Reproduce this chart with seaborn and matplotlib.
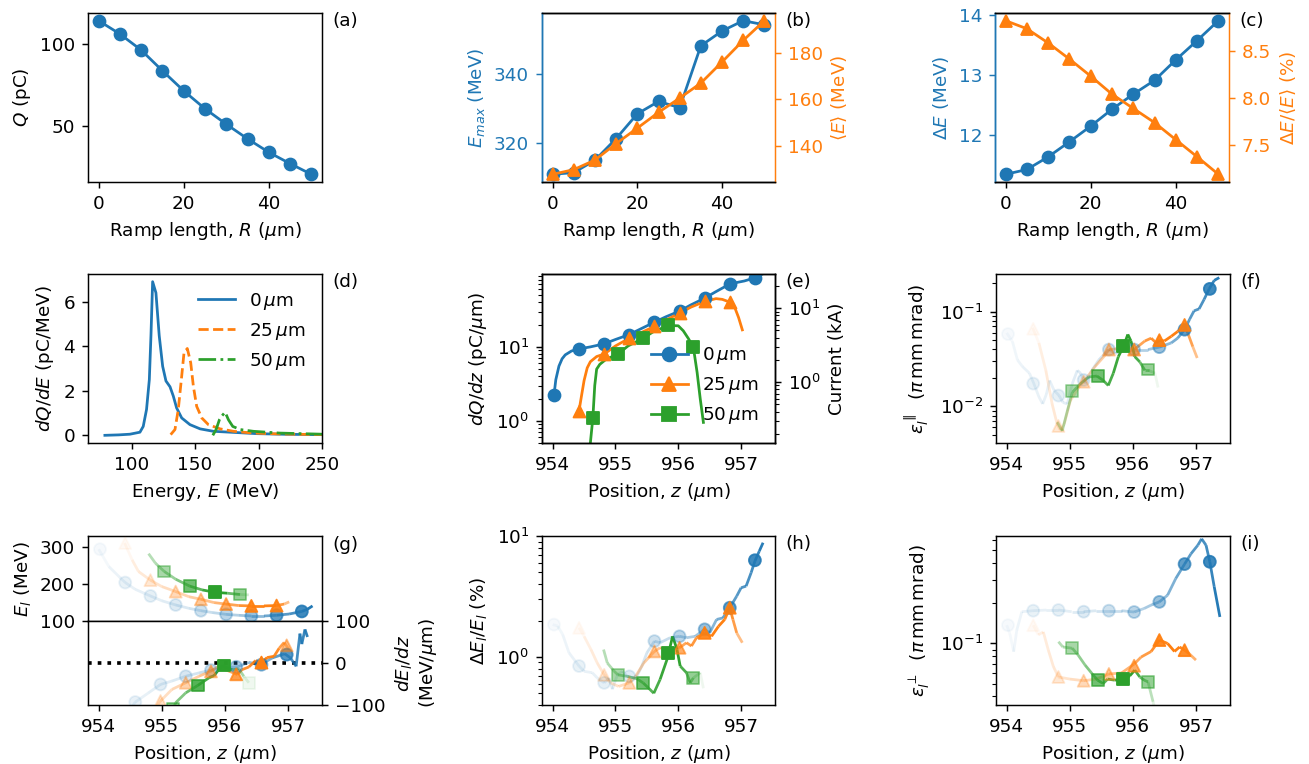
import numpy as np
import matplotlib
matplotlib.use("Agg")
import matplotlib.pyplot as plt
import seaborn as sns
from matplotlib.collections import LineCollection
from matplotlib.lines import Line2D
from matplotlib.colors import to_rgba

# ------------------------------------------------------------------ data
ramp = [0, 5, 10, 15, 20, 25, 30, 35, 40, 45, 50]
charge_pc = [114.2, 106.1, 96.3, 83.7, 71.5, 60.6, 51.2, 42.3, 34.1, 27.2, 20.7]
e_max = [310.8, 311.3, 314.9, 321.2, 328.4, 332.0, 330.2, 348.2, 352.5, 355.5, 354.3]
e_mean = [128.1, 130.1, 134.2, 141.2, 147.8, 154.5, 160.6, 167.0, 176.0, 185.2, 193.6]
e_spread = [11.35, 11.43, 11.64, 11.89, 12.15, 12.43, 12.68, 12.91, 13.25, 13.57, 13.90]
e_spread_rel = [8.815, 8.73, 8.58, 8.41, 8.23, 8.04, 7.89, 7.74, 7.56, 7.38, 7.195]

labels_r = ["0$\\,\\mu$m", "25$\\,\\mu$m", "50$\\,\\mu$m"]

# (d) spectra
spec_E_0 = [79, 90, 98.7, 106.6, 109.2, 111.8, 114, 115.3, 116.6, 119.2, 121.8, 124.5, 127.1,
            130.3, 132.9, 135.5, 139.5, 146, 154, 164.5, 177.6, 198.7, 222, 250, 300, 345]
spec_Q_0 = [0, 0.02, 0.05, 0.14, 0.4, 1.16, 2.5, 4.5, 6.9, 6.4, 4.47, 3.1, 2.44,
            2.18, 1.76, 1.23, 0.78, 0.48, 0.29, 0.18, 0.14, 0.075, 0.045, 0.03, 0.01, 0.0]
spec_E_25 = [130.8, 134.2, 136.8, 139.5, 141.3, 143.9, 146.6, 148.7, 151.3, 155.3, 160.5,
             169.7, 180.3, 196, 217, 250, 300, 345]
spec_Q_25 = [0.03, 0.26, 1.16, 2.66, 3.7, 3.9, 3.26, 2.2, 1.3, 0.78, 0.48,
             0.29, 0.18, 0.1, 0.06, 0.03, 0.01, 0.0]
spec_E_50 = [164, 166.6, 169.2, 171, 173.7, 176.3, 179.7, 185.5, 196, 217, 250, 300, 345]
spec_Q_50 = [0, 0.26, 0.7, 0.86, 1.04, 0.7, 0.4, 0.26, 0.18, 0.1, 0.05, 0.02, 0.0]

# marker positions (um)
zm_0 = [954.02, 954.42, 954.82, 955.22, 955.62, 956.02, 956.42, 956.82, 957.22]
zm_25 = [954.42, 954.82, 955.22, 955.62, 956.02, 956.42, 956.82]
zm_50 = [954.64, 955.04, 955.44, 955.84, 956.24]
zm_50s = [955.04, 955.44, 955.84, 956.24]

# (e) current profile dQ/dz (pC/um)
ze_0 = [954.02, 954.05, 954.1, 954.15, 954.2, 954.3, 954.42, 954.6, 954.82, 955.0, 955.22,
        955.4, 955.62, 955.8, 956.02, 956.2, 956.42, 956.6, 956.82, 956.95, 957.05, 957.22, 957.37]
qe_0 = [2.2, 3.6, 5.5, 6.9, 7.8, 8.8, 9.4, 10.0, 11.0, 12.6, 14.7,
        17.5, 21.6, 25.5, 30.5, 37, 45.7, 56, 71, 75, 78, 86, 100]
qm_0 = [2.2, 9.4, 11.0, 14.7, 21.6, 30.5, 45.7, 71, 86]
ze_25 = [954.42, 954.46, 954.5, 954.55, 954.6, 954.7, 954.82, 955.0, 955.22, 955.4, 955.62,
         955.8, 956.02, 956.2, 956.42, 956.6, 956.7, 956.82, 956.9, 956.96, 957.02]
qe_25 = [1.37, 2.2, 3.5, 5.2, 6.3, 7.4, 8.0, 10.3, 13.1, 15.5, 18.9,
         23, 28.6, 34.5, 41.2, 45, 44, 40.4, 34, 25, 17]
qm_25 = [1.37, 8.0, 13.1, 18.9, 28.6, 41.2, 40.4]
ze_50 = [954.6, 954.64, 954.67, 954.7, 954.75, 954.85, 955.04, 955.2, 955.44, 955.6, 955.84,
         956.0, 956.08, 956.16, 956.24, 956.3, 956.35, 956.4]
qe_50 = [0.5, 1.1, 3.0, 5.0, 5.8, 6.8, 8.0, 10.3, 13.1, 16, 19.5,
         19.3, 16.5, 13.0, 9.9, 4.5, 1.97, 0.95]
qm_50 = [1.1, 8.0, 13.1, 19.5, 9.9]

# (f) longitudinal slice emittance
zf_0 = [954.0, 954.09, 954.17, 954.25, 954.36, 954.43, 954.51, 954.57, 954.63, 954.68, 954.75,
        954.83, 954.89, 954.96, 955.04, 955.12, 955.17, 955.25, 955.35, 955.46, 955.56, 955.62,
        955.72, 955.82, 955.93, 956.03, 956.24, 956.42, 956.61, 956.71, 956.82, 956.9, 956.97,
        957.05, 957.13, 957.21, 957.29, 957.37]
ef_0 = [0.0596, 0.0485, 0.0309, 0.0263, 0.0224, 0.0174, 0.0126, 0.0106, 0.0135, 0.0188, 0.0148,
        0.0130, 0.0110, 0.0106, 0.0174, 0.0240, 0.0224, 0.0174, 0.0240, 0.0309, 0.0363, 0.0398,
        0.0363, 0.0380, 0.0398, 0.0398, 0.0398, 0.0422, 0.0468, 0.0525, 0.0646, 0.0832, 0.102,
        0.107, 0.135, 0.174, 0.214, 0.229]
efm_0 = [0.058, 0.0174, 0.0130, 0.019, 0.0398, 0.0398, 0.0422, 0.0646, 0.174]
zf_25 = [954.41, 954.51, 954.62, 954.72, 954.8, 954.85, 954.91, 955.01, 955.14, 955.22, 955.4,
         955.56, 955.62, 955.77, 955.93, 956.02, 956.19, 956.29, 956.37, 956.42, 956.5, 956.61,
         956.71, 956.81, 956.87, 956.95, 957.02]
ef_25 = [0.0676, 0.0468, 0.024, 0.0106, 0.00646, 0.00562, 0.00646, 0.0115, 0.0158, 0.0182, 0.0263,
         0.0347, 0.0398, 0.0407, 0.0422, 0.0398, 0.049, 0.0525, 0.0468, 0.050, 0.049, 0.055,
         0.0617, 0.0724, 0.0596, 0.0427, 0.0324]
efm_25 = [0.066, 0.0062, 0.0182, 0.0398, 0.0398, 0.050, 0.0724]
zf_50 = [954.8, 954.88, 954.96, 955.04, 955.17, 955.3, 955.43, 955.53, 955.61, 955.69, 955.77,
         955.85, 955.92, 955.97, 956.03, 956.11, 956.19, 956.25, 956.35, 956.4]
ef_50 = [0.0068, 0.0055, 0.0089, 0.0141, 0.0174, 0.0204, 0.0209, 0.0188, 0.0166, 0.0224, 0.0335,
         0.0427, 0.0575, 0.049, 0.0335, 0.0295, 0.024, 0.024, 0.0224, 0.0158]
efm_50 = [0.0144, 0.0211, 0.0433, 0.0245]

# (g) slice energy and its derivative
zg_0 = [954.0, 954.16, 954.32, 954.42, 954.58, 954.82, 955.0, 955.22, 955.43, 955.62, 955.8,
        956.02, 956.22, 956.42, 956.62, 956.82, 957.02, 957.22, 957.31, 957.39]
eg_0 = [295, 248, 221, 204.5, 186, 168, 155, 143.6, 134.5, 128, 123,
        118, 115.5, 113.6, 113.6, 115.5, 119, 126, 132, 141]
egm_0 = [295, 204.5, 168, 143.6, 128, 118, 113.6, 115.5, 126]
zg_25 = [954.41, 954.53, 954.63, 954.82, 955.0, 955.22, 955.43, 955.62, 955.83, 956.02, 956.22,
         956.42, 956.62, 956.82, 956.94, 957.02]
eg_25 = [312, 266, 234.5, 211, 193.6, 180, 166, 159, 150, 146, 142,
         141, 141, 142, 146, 152]
egm_25 = [312, 211, 180, 159, 146, 141, 142]
zg_50 = [954.79, 954.9, 955.04, 955.22, 955.44, 955.64, 955.84, 956.04, 956.24, 956.38]
eg_50 = [283, 257, 234.5, 213.6, 195, 184.5, 178, 175.5, 172, 171]
egm_50 = [234.5, 195, 178, 172]

zd_0 = [954.0, 954.2, 954.4, 954.58, 954.79, 954.98, 955.16, 955.38, 955.59, 955.77, 956.01,
        956.22, 956.38, 956.57, 956.75, 956.95, 957.04, 957.13, 957.19, 957.22, 957.27, 957.31]
dd_0 = [-330, -200, -130, -93, -71, -51, -43, -31.5, -23.6, -17, -12,
        -8, 1.6, -4, 12, 22, 12, -8, 70, 45, 80, 62]
zdm_0 = [954.18, 954.58, 954.98, 955.38, 955.78, 956.18, 956.58, 956.98]
ddm_0 = [-200, -93, -51, -31.5, -17, -9, -4, 20]
zd_25 = [954.42, 954.6, 954.8, 954.98, 955.16, 955.38, 955.59, 955.77, 955.9, 956.01, 956.2,
         956.27, 956.38, 956.49, 956.57, 956.67, 956.78, 956.86, 956.94, 957.02]
dd_25 = [-400, -250, -130, -90.5, -63, -47, -31.5, -20, -8, -16, -27.5,
         -16, -9.5, 6, 0, 13, 16, 35, 49, 31.5]
zdm_25 = [954.58, 954.98, 955.38, 955.78, 956.18, 956.58, 956.98]
ddm_25 = [-250, -90.5, -47, -20, -27, 1, 42]
zd_50 = [954.8, 955.0, 955.22, 955.38, 955.57, 955.75, 955.83, 955.88, 955.96, 956.04, 956.12,
         956.22, 956.3, 956.38]
dd_50 = [-350, -180, -94.5, -71, -53.5, -35, -30, -20, -6, -12, -16, -14, -31.5, -47]
zdm_50 = [955.18, 955.58, 955.98, 956.38]
ddm_50 = [-110, -53.5, -6, -47]

# (h) relative slice energy spread (%)
zh_0 = [954.0, 954.08, 954.16, 954.26, 954.42, 954.5, 954.63, 954.71, 954.82, 954.9, 954.95,
        955.03, 955.11, 955.19, 955.27, 955.34, 955.42, 955.5, 955.62, 955.71, 955.87, 956.02,
        956.13, 956.27, 956.42, 956.5, 956.61, 956.71, 956.82, 956.93, 957.0, 957.08, 957.16,
        957.22, 957.29, 957.35]
sh_0 = [1.85, 1.80, 1.53, 1.08, 0.84, 0.76, 0.74, 0.67, 0.61, 0.67, 0.54,
        0.71, 0.76, 0.69, 0.67, 0.69, 0.84, 1.08, 1.35, 1.31, 1.44, 1.48,
        1.44, 1.48, 1.69, 1.58, 2.04, 2.1, 2.55, 3.18, 3.73, 3.85, 4.97,
        6.2, 7.5, 8.8]
shm_0 = [1.85, 0.84, 0.61, 0.69, 1.35, 1.48, 1.69, 2.55, 6.3]
zh_25 = [954.42, 954.5, 954.61, 954.71, 954.82, 954.92, 955.05, 955.22, 955.32, 955.45, 955.62,
         955.71, 955.87, 956.02, 956.13, 956.21, 956.29, 956.42, 956.53, 956.64, 956.74, 956.82,
         956.87, 956.93, 957.02]
sh_25 = [1.74, 1.48, 1.15, 0.89, 0.71, 0.61, 0.57, 0.61, 0.69, 0.89, 1.11,
         1.19, 1.15, 1.19, 1.31, 1.23, 1.44, 1.58, 1.48, 1.79, 2.04, 2.55,
         2.04, 1.58, 1.31]
shm_25 = [1.74, 0.71, 0.61, 1.11, 1.19, 1.58, 2.55]
zh_50 = [954.81, 954.87, 954.98, 955.04, 955.19, 955.34, 955.44, 955.53, 955.61, 955.71, 955.82,
         955.91, 955.98, 956.03, 956.13, 956.19, 956.24, 956.35, 956.4]
sh_50 = [1.15, 0.89, 0.76, 0.71, 0.69, 0.66, 0.61, 0.55, 0.50, 0.65, 0.95,
         1.48, 1.15, 0.84, 0.74, 0.61, 0.67, 0.74, 0.55]
shm_50 = [0.71, 0.61, 1.08, 0.67]

# (i) transverse slice emittance
zi_0 = [954.0, 954.05, 954.11, 954.16, 954.24, 954.42, 954.63, 954.82, 955.03, 955.22, 955.42,
        955.62, 955.82, 956.02, 956.18, 956.29, 956.42, 956.55, 956.68, 956.82, 956.92, 957.03,
        957.09, 957.16, 957.22, 957.29, 957.38]
ei_0 = [0.137, 0.118, 0.0866, 0.126, 0.173, 0.176, 0.178, 0.178, 0.173, 0.173, 0.176,
        0.176, 0.176, 0.172, 0.183, 0.194, 0.205, 0.23, 0.307, 0.394, 0.47, 0.546,
        0.61, 0.546, 0.41, 0.266, 0.158]
eim_0 = [0.137, 0.176, 0.178, 0.173, 0.176, 0.172, 0.205, 0.394, 0.41]
zi_25 = [954.42, 954.5, 954.58, 954.66, 954.74, 954.82, 955.0, 955.22, 955.42, 955.62, 955.82,
         956.02, 956.13, 956.29, 956.42, 956.55, 956.66, 956.74, 956.82, 956.89, 957.0]
ei_25 = [0.137, 0.116, 0.122, 0.089, 0.067, 0.056, 0.054, 0.0525, 0.054, 0.059, 0.060,
         0.070, 0.079, 0.087, 0.106, 0.1, 0.087, 0.094, 0.089, 0.084, 0.075]
eim_25 = [0.137, 0.056, 0.0525, 0.059, 0.068, 0.106, 0.089]
zi_50 = [954.82, 954.89, 955.04, 955.13, 955.24, 955.37, 955.44, 955.53, 955.6, 955.71, 955.84,
         955.95, 956.03, 956.11, 956.18, 956.24, 956.32, 956.36]
ei_50 = [0.103, 0.094, 0.092, 0.082, 0.069, 0.058, 0.053, 0.05, 0.054, 0.053, 0.054,
         0.057, 0.063, 0.056, 0.053, 0.0515, 0.0365, 0.03]
eim_50 = [0.092, 0.053, 0.054, 0.0515]

# ------------------------------------------------------------------ style
C0, C1, C2 = "#1f77b4", "#ff7f0e", "#2ca02c"
MS = 6.5
LW = 1.5
plt.rcParams.update({"font.size": 10, "font.family": ["DejaVu Sans"]})

W, H = 1309, 764
DPI = 132
fig = plt.figure(figsize=(W / DPI, H / DPI), dpi=DPI)


def rect(x0, y0, x1, y1):
    return [x0 / W, 1 - y1 / H, (x1 - x0) / W, (y1 - y0) / H]


def tag(ax, s, y=0.95):
    ax.text(1.045, y, s, transform=ax.transAxes, ha="left", va="center")


def faded(ax, z, v, zq, q, color, marker, zm, vm):
    z = np.asarray(z, float)
    v = np.asarray(v, float)
    qmax = max(q)
    pts = np.column_stack([z, v]).reshape(-1, 1, 2)
    segs = np.concatenate([pts[:-1], pts[1:]], axis=1)
    zmid = 0.5 * (z[:-1] + z[1:])
    a = np.clip(np.interp(zmid, zq, q) / qmax, 0.04, 1.0)
    lc = LineCollection(segs, colors=[to_rgba(color, ai) for ai in a], linewidths=LW)
    ax.add_collection(lc)
    am = np.clip(np.interp(zm, zq, q) / qmax, 0.04, 1.0)
    cm = [to_rgba(color, ai) for ai in am]
    ax.scatter(zm, vm, s=(MS) ** 2, c=cm, marker=marker, edgecolors=cm,
               linewidths=1.0, zorder=3)


ZLIM = (953.83, 957.54)
XLAB_Z = "Position, $z$ ($\\mu$m)"
XLAB_R = "Ramp length, $R$ ($\\mu$m)"

# ------------------------------------------------------------------ (a)
ax = fig.add_axes(rect(88, 13, 322, 182))
sns.lineplot(x=ramp, y=charge_pc, ax=ax, color=C0, marker="o", ms=MS, mec=C0, mew=1, lw=LW)
ax.set_yticks([50, 100])
ax.set_xticks([0, 20, 40])
ax.set_ylabel("$Q$ (pC)")
ax.set_xlabel(XLAB_R)
tag(ax, "(a)")

# ------------------------------------------------------------------ (b)
ax = fig.add_axes(rect(542, 13, 775, 182))
sns.lineplot(x=ramp, y=e_max, ax=ax, color=C0, marker="o", ms=MS, mec=C0, mew=1, lw=LW)
ax.set_yticks([320, 340])
ax.set_xticks([0, 20, 40])
ax.set_xlabel(XLAB_R)
ax.set_ylabel("$E_{max}$ (MeV)", color=C0)
ax.tick_params(axis="y", colors=C0)
ax.spines["left"].set_color(C0)
ax.spines["right"].set_visible(False)
ax2 = ax.twinx()
sns.lineplot(x=ramp, y=e_mean, ax=ax2, color=C1, marker="^", ms=MS + 0.5, mec=C1, mew=1, lw=LW)
ax2.set_yticks([140, 160, 180])
ax2.set_ylabel("$\\langle E\\rangle$ (MeV)", color=C1)
ax2.tick_params(axis="y", colors=C1)
ax2.spines["left"].set_color(C0)
ax2.spines["right"].set_color(C1)
tag(ax2, "(b)")

# ------------------------------------------------------------------ (c)
ax = fig.add_axes(rect(995, 13, 1229, 182))
sns.lineplot(x=ramp, y=e_spread, ax=ax, color=C0, marker="o", ms=MS, mec=C0, mew=1, lw=LW)
ax.set_yticks([12, 13, 14])
ax.set_xticks([0, 20, 40])
ax.set_xlabel(XLAB_R)
ax.set_ylabel("$\\Delta E$ (MeV)", color=C0)
ax.tick_params(axis="y", colors=C0)
ax.spines["left"].set_color(C0)
ax.spines["right"].set_visible(False)
ax2 = ax.twinx()
sns.lineplot(x=ramp, y=e_spread_rel, ax=ax2, color=C1, marker="^", ms=MS + 0.5, mec=C1, mew=1, lw=LW)
ax2.set_yticks([7.5, 8.0, 8.5])
ax2.set_ylabel("$\\Delta E/\\langle E\\rangle$ (%)", color=C1)
ax2.tick_params(axis="y", colors=C1)
ax2.spines["left"].set_color(C0)
ax2.spines["right"].set_color(C1)
tag(ax2, "(c)")

# ------------------------------------------------------------------ (d)
ax = fig.add_axes(rect(88, 274, 322, 443))
sns.lineplot(x=spec_E_0, y=spec_Q_0, ax=ax, color=C0, lw=LW, label=labels_r[0])
sns.lineplot(x=spec_E_25, y=spec_Q_25, ax=ax, color=C1, lw=LW, ls="--", label=labels_r[1])
sns.lineplot(x=spec_E_50, y=spec_Q_50, ax=ax, color=C2, lw=LW, ls="-.", label=labels_r[2])
ax.set_xlim(65.7, 250)
ax.set_xticks([100, 150, 200, 250])
ax.set_yticks([0, 2, 4, 6])
ax.set_xlabel("Energy, $E$ (MeV)")
ax.set_ylabel("$dQ/dE$ (pC/MeV)")
ax.legend(loc="upper right", frameon=False)
tag(ax, "(d)")

# ------------------------------------------------------------------ (e)
ax = fig.add_axes(rect(542, 274, 775, 443))
for z, q, zm, qm, c, m in [(ze_0, qe_0, zm_0, qm_0, C0, "o"),
                           (ze_25, qe_25, zm_25, qm_25, C1, "^"),
                           (ze_50, qe_50, zm_50, qm_50, C2, "s")]:
    sns.lineplot(x=z, y=q, ax=ax, color=c, lw=LW)
    sns.scatterplot(x=zm, y=qm, ax=ax, color=c, marker=m, s=MS ** 2, edgecolor=c,
                    linewidth=1, legend=False, zorder=3)
ax.set_yscale("log")
ax.set_ylim(0.5, 97)
ax.set_xlim(*ZLIM)
ax.set_xticks([954, 955, 956, 957])
ax.set_xlabel(XLAB_Z)
ax.set_ylabel("$dQ/dz$ (pC/$\\mu$m)")
handles = [Line2D([], [], color=c, marker=m, ms=MS + 1, lw=LW)
           for c, m in [(C0, "o"), (C1, "^"), (C2, "s")]]
ax.legend(handles, labels_r, loc="lower right", frameon=False)
ax2 = ax.twinx()
ax2.set_yscale("log")
ax2.set_ylim(0.5 * 0.2998, 97 * 0.2998)
ax2.set_ylabel("Current (kA)")
tag(ax2, "(e)")

# ------------------------------------------------------------------ (f)
ax = fig.add_axes(rect(996, 274, 1230, 443))
faded(ax, zf_0, ef_0, ze_0, qe_0, C0, "o", zm_0, efm_0)
faded(ax, zf_25, ef_25, ze_25, qe_25, C1, "^", zm_25, efm_25)
faded(ax, zf_50, ef_50, ze_50, qe_50, C2, "s", zm_50s, efm_50)
ax.set_yscale("log")
ax.set_ylim(0.0041, 0.25)
ax.set_xlim(*ZLIM)
ax.set_xticks([954, 955, 956, 957])
ax.set_xlabel(XLAB_Z)
ax.set_ylabel("$\\varepsilon_l^{\\parallel}$  ($\\pi\\,$mm$\\,$mrad)")
tag(ax, "(f)")

# ------------------------------------------------------------------ (g)
axt = fig.add_axes(rect(88, 536, 322, 621))
faded(axt, zg_0, eg_0, ze_0, qe_0, C0, "o", zm_0, egm_0)
faded(axt, zg_25, eg_25, ze_25, qe_25, C1, "^", zm_25, egm_25)
faded(axt, zg_50, eg_50, ze_50, qe_50, C2, "s", zm_50s, egm_50)
axt.set_xlim(*ZLIM)
axt.set_ylim(100, 331)
axt.set_yticks([100, 200, 300])
axt.tick_params(axis="x", bottom=False, labelbottom=False)
axt.set_ylabel("$E_l$ (MeV)")
tag(axt, "(g)", y=0.895)

axb = fig.add_axes(rect(88, 621, 322, 705))
sns.lineplot(x=list(ZLIM), y=[0, 0], ax=axb, color="k", lw=2, ls=":")
faded(axb, zd_0, dd_0, ze_0, qe_0, C0, "o", zdm_0, ddm_0)
faded(axb, zd_25, dd_25, ze_25, qe_25, C1, "^", zdm_25, ddm_25)
faded(axb, zd_50, dd_50, ze_50, qe_50, C2, "s", zdm_50, ddm_50)
axb.set_xlim(*ZLIM)
axb.set_ylim(-100, 100)
axb.set_yticks([-100, 0, 100])
axb.yaxis.tick_right()
axb.yaxis.set_label_position("right")
axb.set_ylabel("$dE_l/dz$\n(MeV/$\\mu$m)")
axb.set_xticks([954, 955, 956, 957])
axb.set_xlabel(XLAB_Z)

# ------------------------------------------------------------------ (h)
ax = fig.add_axes(rect(542, 536, 775, 705))
faded(ax, zh_0, sh_0, ze_0, qe_0, C0, "o", zm_0, shm_0)
faded(ax, zh_25, sh_25, ze_25, qe_25, C1, "^", zm_25, shm_25)
faded(ax, zh_50, sh_50, ze_50, qe_50, C2, "s", zm_50s, shm_50)
ax.set_yscale("log")
ax.set_ylim(0.4, 10)
ax.set_xlim(*ZLIM)
ax.set_xticks([954, 955, 956, 957])
ax.set_xlabel(XLAB_Z)
ax.set_ylabel("$\\Delta E_l/E_l$ (%)")
tag(ax, "(h)")

# ------------------------------------------------------------------ (i)
ax = fig.add_axes(rect(996, 536, 1230, 705))
faded(ax, zi_0, ei_0, ze_0, qe_0, C0, "o", zm_0, eim_0)
faded(ax, zi_25, ei_25, ze_25, qe_25, C1, "^", zm_25, eim_25)
faded(ax, zi_50, ei_50, ze_50, qe_50, C2, "s", zm_50s, eim_50)
ax.set_yscale("log")
ax.set_ylim(0.0345, 0.64)
ax.set_xlim(*ZLIM)
ax.set_xticks([954, 955, 956, 957])
ax.set_xlabel(XLAB_Z)
ax.set_ylabel("$\\varepsilon_l^{\\perp}$  ($\\pi\\,$mm$\\,$mrad)")
tag(ax, "(i)")

fig.savefig("out.png", dpi=DPI)
